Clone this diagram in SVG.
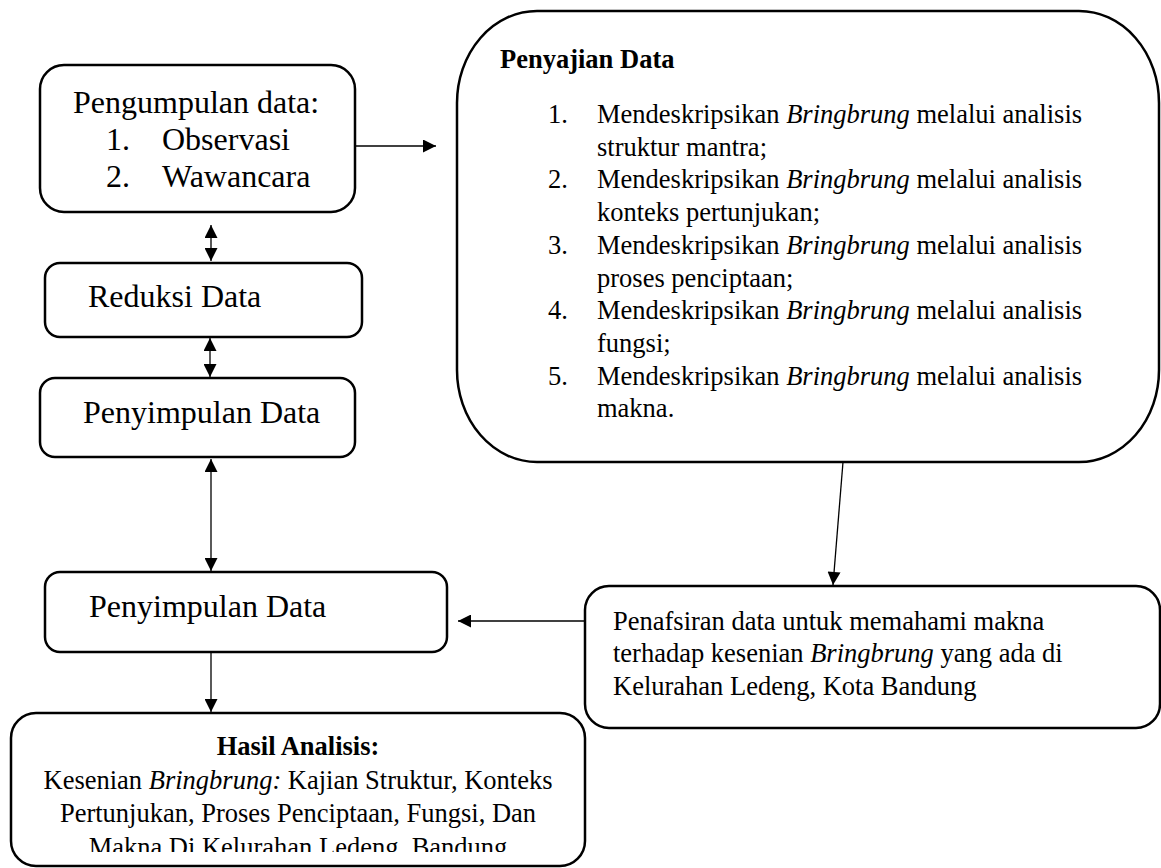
<svg xmlns="http://www.w3.org/2000/svg" width="1161" height="868" viewBox="0 0 1161 868">
<style>
.box{fill:#fff;stroke:#000;stroke-width:2.5}
.con{fill:none;stroke:#000;stroke-width:1.3}
text{font-family:"Liberation Serif","Times New Roman",serif;fill:#000}
.big{font-size:32px}
.sm{font-size:26.5px}
.b{font-weight:bold}
.i{font-style:italic}
</style>
<defs>
<marker id="ah" viewBox="0 0 14 14" refX="14" refY="7" markerWidth="15" markerHeight="13" markerUnits="userSpaceOnUse" orient="auto-start-reverse">
<path d="M0,0 L14,7 L0,14 z" fill="#000"/>
</marker>
<clipPath id="hclip"><rect x="10" y="700" width="580" height="152"/></clipPath>
</defs>
<rect width="1161" height="868" fill="#fff"/>
<g id="n-pengumpulan">
<rect class="box" x="40" y="65" width="315" height="147" rx="24"/>
<text class="big" x="73" y="113">Pengumpulan data:</text>
<text class="big" x="106" y="150">1.</text>
<text class="big" x="162" y="150">Observasi</text>
<text class="big" x="106" y="187">2.</text>
<text class="big" x="162" y="187">Wawancara</text>
</g>
<g id="n-reduksi">
<rect class="box" x="45" y="263" width="317" height="74" rx="15"/>
<text class="big" x="88" y="307">Reduksi Data</text>
</g>
<g id="n-penyimpulan1">
<rect class="box" x="40" y="378" width="315" height="79" rx="15"/>
<text class="big" x="83" y="423">Penyimpulan Data</text>
</g>
<g id="n-penyimpulan2">
<rect class="box" x="45" y="572" width="402" height="80" rx="15"/>
<text class="big" x="89" y="617">Penyimpulan Data</text>
</g>
<g id="n-penyajian">
<rect class="box" x="457" y="11" width="702" height="451" rx="80" ry="92"/>
<text class="sm b" x="500" y="68">Penyajian Data</text>
<text class="sm" x="548" y="123">1.</text>
<text class="sm" x="597" y="123">Mendeskripsikan <tspan class="i">Bringbrung</tspan> melalui analisis</text>
<text class="sm" x="597" y="155.7">struktur mantra;</text>
<text class="sm" x="548" y="188.4">2.</text>
<text class="sm" x="597" y="188.4">Mendeskripsikan <tspan class="i">Bringbrung</tspan> melalui analisis</text>
<text class="sm" x="597" y="221">konteks pertunjukan;</text>
<text class="sm" x="548" y="253.8">3.</text>
<text class="sm" x="597" y="253.8">Mendeskripsikan <tspan class="i">Bringbrung</tspan> melalui analisis</text>
<text class="sm" x="597" y="286.5">proses penciptaan;</text>
<text class="sm" x="548" y="319.2">4.</text>
<text class="sm" x="597" y="319.2">Mendeskripsikan <tspan class="i">Bringbrung</tspan> melalui analisis</text>
<text class="sm" x="597" y="352">fungsi;</text>
<text class="sm" x="548" y="384.6">5.</text>
<text class="sm" x="597" y="384.6">Mendeskripsikan <tspan class="i">Bringbrung</tspan> melalui analisis</text>
<text class="sm" x="597" y="417.3">makna.</text>
</g>
<g id="n-penafsiran">
<rect class="box" x="585" y="586" width="575" height="142" rx="24"/>
<text class="sm" x="613" y="630">Penafsiran data untuk memahami makna</text>
<text class="sm" x="613" y="662">terhadap kesenian <tspan class="i">Bringbrung</tspan> yang ada di</text>
<text class="sm" x="613" y="695">Kelurahan Ledeng, Kota Bandung</text>
</g>
<g id="n-hasil">
<rect class="box" x="11" y="713" width="574" height="153" rx="25"/>
<g clip-path="url(#hclip)">
<text class="sm b" x="298" y="755" text-anchor="middle">Hasil Analisis:</text>
<text class="sm" x="298" y="788.5" text-anchor="middle">Kesenian <tspan class="i">Bringbrung:</tspan> Kajian Struktur, Konteks</text>
<text class="sm" x="298" y="822" text-anchor="middle">Pertunjukan, Proses Penciptaan, Fungsi, Dan</text>
<text class="sm" x="298" y="855.5" text-anchor="middle">Makna Di Kelurahan Ledeng, Bandung</text>
</g>
</g>
<g id="connectors">
<path class="con" d="M355,146 H436" marker-end="url(#ah)"/>
<path class="con" d="M211,225 V261" marker-start="url(#ah)" marker-end="url(#ah)"/>
<path class="con" d="M210,338 V377" marker-start="url(#ah)" marker-end="url(#ah)"/>
<path class="con" d="M211,459 V571" marker-start="url(#ah)" marker-end="url(#ah)"/>
<path class="con" d="M211,652 V712" marker-end="url(#ah)"/>
<path class="con" d="M585,621 H458" marker-end="url(#ah)"/>
<path class="con" d="M843,462 L833,585" marker-end="url(#ah)"/>
</g>
</svg>
